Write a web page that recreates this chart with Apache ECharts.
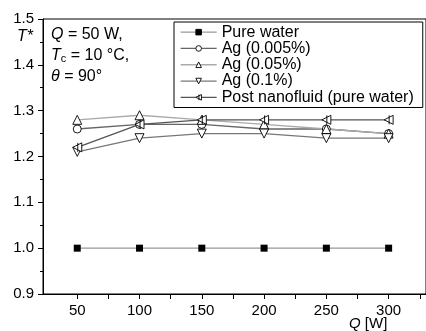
<!DOCTYPE html>
<html>
<head>
<meta charset="utf-8">
<script src="https://cdn.jsdelivr.net/npm/echarts@6/dist/echarts.min.js"></script>
<style>
  body { margin: 0; background: #fff; }
  #chart { width: 426px; height: 331px; }
</style>
</head>
<body>
<div id="chart"></div>
<script>
    // data
    var qValues = [50, 100, 150, 200, 250, 300];
    var pureWater = [1.00, 1.00, 1.00, 1.00, 1.00, 1.00];
    var ag0005 = [1.26, 1.27, 1.27, 1.26, 1.26, 1.25];
    var ag005 = [1.28, 1.29, 1.28, 1.27, 1.26, 1.25];
    var ag01 = [1.21, 1.24, 1.25, 1.25, 1.24, 1.24];
    var postNano = [1.22, 1.27, 1.28, 1.28, 1.28, 1.28];
    var xTickLabels = [50, 100, 150, 200, 250, 300];
    var xTicks = [50, 75, 100, 125, 150, 175, 200, 225, 250, 275, 300, 325];

    var font = 'Liberation Sans, Arial, sans-serif';

    function pairs(arr) {
        return qValues.map(function (q, i) { return [q, arr[i]]; });
    }

    // symbols
    var triDown = 'path://M0,0 L10,0 L5,9 Z';
    var triLeftBar = 'path://M0,5 L9,0 L9,10 Z M5,0 L5,10';

    function mk(name, arr, symbol, lineColor, size) {
        return {
            name: name,
            type: 'line',
            data: pairs(arr),
            symbol: symbol,
            symbolSize: size || 8,
            showAllSymbol: true,
            lineStyle: { color: lineColor, width: 1.3 },
            itemStyle: { color: '#fff', borderColor: '#000', borderWidth: 0.9 },
            emphasis: { disabled: true },
            z: 3
        };
    }

    var myChart = echarts.init(document.getElementById('chart'));

    var option = {
        animation: false,
        grid: {
            left: 43, top: 19, width: 394, height: 275,
            show: true, borderColor: '#000', borderWidth: 1
        },
        legend: {
            orient: 'vertical',
            left: 174, top: 22,
            padding: [2, 9, 2, 6],
            borderColor: '#000', borderWidth: 1,
            itemWidth: 36, itemHeight: 7, itemGap: 0,
            itemStyle: { borderWidth: 0.9 },
            lineStyle: { width: 1.3 },
            textStyle: { fontFamily: font, fontSize: 16, color: '#000', lineHeight: 16.3 },
            data: ['Pure water', 'Ag (0.005%)', 'Ag (0.05%)', 'Ag (0.1%)', 'Post nanofluid (pure water)']
        },
        xAxis: {
            type: 'value',
            min: 22.5, max: 330,
            axisLine: { lineStyle: { color: '#000', width: 1 } },
            axisTick: { customValues: xTicks, length: 5, lineStyle: { color: '#000' } },
            axisLabel: {
                customValues: xTickLabels, margin: 9,
                fontFamily: font, fontSize: 15, color: '#000'
            },
            splitLine: { show: false }
        },
        yAxis: {
            type: 'value',
            min: 0.9, max: 1.5, interval: 0.1,
            axisLine: { show: true, lineStyle: { color: '#000', width: 1 } },
            axisTick: { show: true, length: 5, lineStyle: { color: '#000' } },
            minorTick: { show: true, splitNumber: 2, length: 3, lineStyle: { color: '#000' } },
            axisLabel: {
                margin: 9, fontFamily: font, fontSize: 15, color: '#000',
                formatter: function (v) { return v.toFixed(1); }
            },
            splitLine: { show: false }
        },
        graphic: [
            {
                type: 'text', left: 17, top: 29,
                style: { text: 'T*', font: 'italic 16px ' + font, fill: '#000' }
            },
            {
                type: 'text', left: 51, top: 24,
                style: {
                    text: '{i|Q} = 50 W,\n{i|T}{s|c} = 10 °C,\n{i|θ} = 90°',
                    font: '16px ' + font, fill: '#000', lineHeight: 21,
                    rich: {
                        i: { font: 'italic 16px ' + font, fill: '#000' },
                        s: { font: '11px ' + font, fill: '#000', padding: [6, 0, 0, 0] }
                    }
                }
            },
            {
                type: 'text', left: 349, top: 316,
                style: {
                    text: '{i|Q} [W]', font: '15px ' + font, fill: '#000',
                    rich: { i: { font: 'italic 15px ' + font, fill: '#000' } }
                }
            }
        ],
        series: [
            mk('Pure water', pureWater, 'rect', '#999', 7),
            mk('Ag (0.005%)', ag0005, 'circle', '#666', 8),
            mk('Ag (0.05%)', ag005, 'triangle', '#aaa', 9),
            mk('Ag (0.1%)', ag01, triDown, '#777', 9),
            mk('Post nanofluid (pure water)', postNano, triLeftBar, '#555', 9)
        ]
    };
    option.series[0].itemStyle = { color: '#000', borderColor: '#000', borderWidth: 0 };

    myChart.setOption(option);
</script>
</body>
</html>
